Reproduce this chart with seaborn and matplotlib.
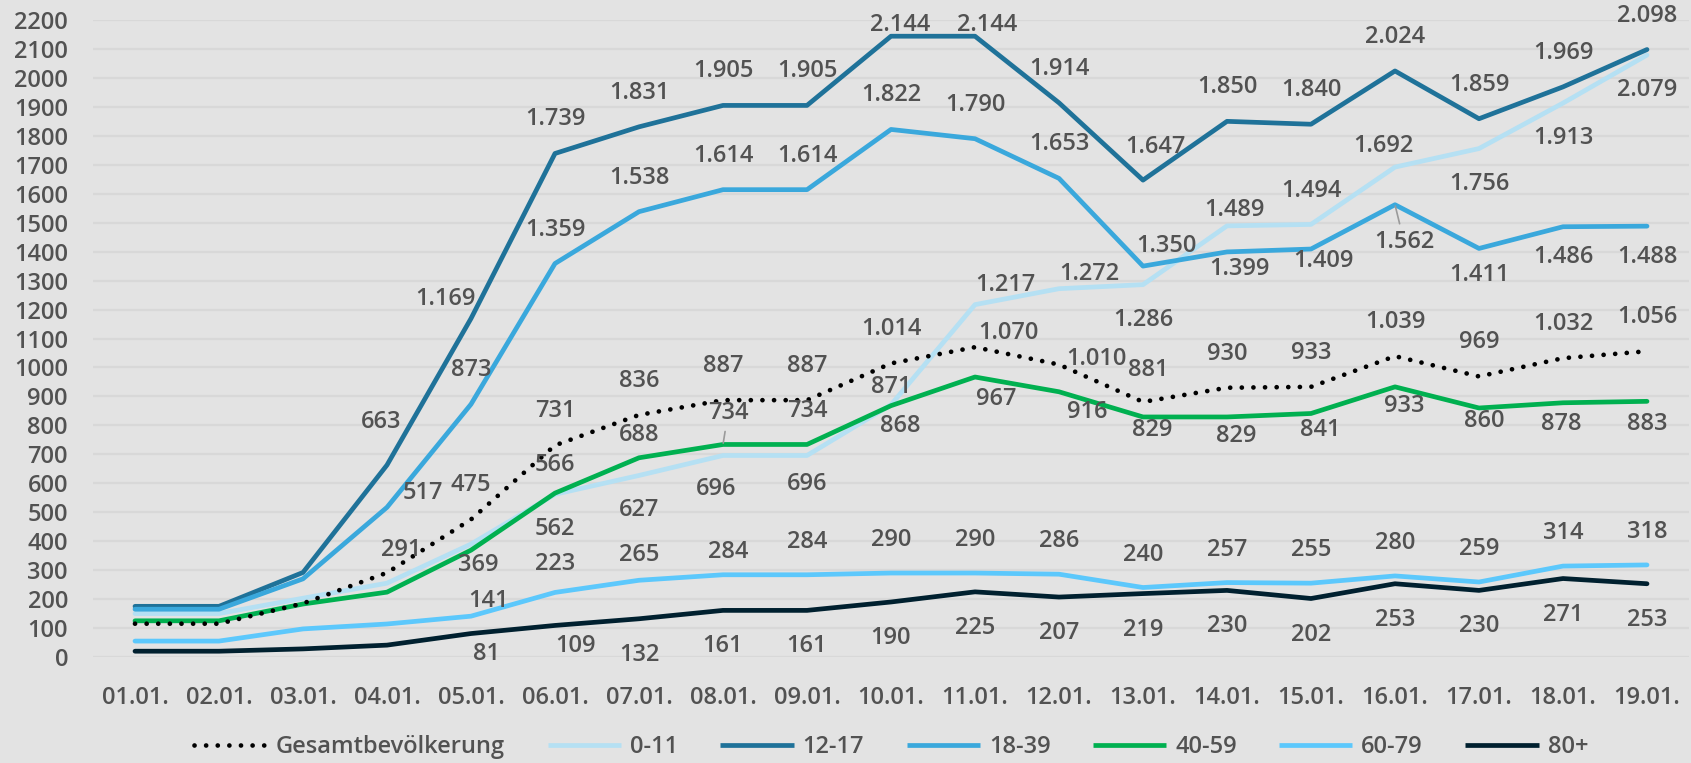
import numpy as np
import pandas as pd
import matplotlib
matplotlib.use("Agg")
import matplotlib.pyplot as plt
import seaborn as sns
from matplotlib.lines import Line2D

# ---------------- data ----------------
dates = ["01.01.", "02.01.", "03.01.", "04.01.", "05.01.", "06.01.", "07.01.",
         "08.01.", "09.01.", "10.01.", "11.01.", "12.01.", "13.01.", "14.01.",
         "15.01.", "16.01.", "17.01.", "18.01.", "19.01."]
gesamt = [115, 115, 185, 291, 475, 731, 836, 887, 887, 1014, 1070, 1010, 881,
          930, 933, 1039, 969, 1032, 1056]
age_0_11 = [150, 150, 203, 255, 390, 562, 627, 696, 696, 871, 1217, 1272, 1286,
            1489, 1494, 1692, 1756, 1913, 2079]
age_12_17 = [175, 175, 292, 663, 1169, 1739, 1831, 1905, 1905, 2144, 2144, 1914,
             1647, 1850, 1840, 2024, 1859, 1969, 2098]
age_18_39 = [165, 165, 270, 517, 873, 1359, 1538, 1614, 1614, 1822, 1790, 1653,
             1350, 1399, 1409, 1562, 1411, 1486, 1488]
age_40_59 = [125, 125, 183, 224, 369, 566, 688, 734, 734, 868, 967, 916, 829,
             829, 841, 933, 860, 878, 883]
age_60_79 = [55, 55, 97, 114, 141, 223, 265, 284, 284, 290, 290, 286, 240, 257,
             255, 280, 259, 314, 318]
age_80 = [20, 20, 28, 41, 81, 109, 132, 161, 161, 190, 225, 207, 219, 230, 202,
          253, 230, 271, 253]

series_names = ["Gesamtbevölkerung", "0-11", "12-17", "18-39", "40-59", "60-79", "80+"]
series_values = [gesamt, age_0_11, age_12_17, age_18_39, age_40_59, age_60_79, age_80]

# ---------------- styles ----------------
colors = {
    "Gesamtbevölkerung": "#000000",
    "0-11": "#b5e0f3",
    "12-17": "#1f7299",
    "18-39": "#3aa8dc",
    "40-59": "#00b050",
    "60-79": "#5cc8fc",
    "80+": "#00202f",
}
label_from = {"Gesamtbevölkerung": 3, "0-11": 5, "12-17": 3, "18-39": 3,
              "40-59": 4, "60-79": 4, "80+": 4}
default_off = {"Gesamtbevölkerung": (0, -34), "0-11": (0, 35), "12-17": (0, -34),
               "18-39": (0, -34), "40-59": (0, 19), "60-79": (0, -33), "80+": (0, 36)}
override_off = {
    "Gesamtbevölkerung": {3: (14, -23), 10: (33, -14), 11: (37, -6), 12: (5, -32)},
    "0-11": {7: (-7, 34), 8: (0, 29), 9: (0, -18), 10: (30, -20), 11: (30, -15),
             13: (7, -16), 14: (0, -33), 15: (-12, -21)},
    "12-17": {3: (-6, -43), 4: (-26, -20), 9: (9, -11), 10: (12, -11), 12: (12, -33)},
    "18-39": {3: (36, -14), 12: (23, -20), 13: (12, 17), 14: (12, 12), 15: (9, 37),
              16: (0, 27), 17: (0, 30), 18: (0, 31)},
    "40-59": {4: (7, 15), 5: (0, -28), 6: (0, -23), 7: (5, -31), 8: (0, -33),
              9: (9, 20), 10: (21, 22), 11: (28, 20), 12: (9, 13), 13: (9, 19),
              14: (9, 17), 15: (9, 19), 16: (5, 13), 17: (-2, 21), 18: (0, 23)},
    "60-79": {4: (18, -15), 5: (0, -28), 6: (0, -25), 7: (5, -23)},
    "80+": {4: (15, 20), 5: (21, 21)},
}
leaders = {("40-59", 7), ("18-39", 15)}

BG = "#e3e3e3"
GRID = "#d8d8d8"
TXT = "#525252"
FS = 17
FW = "semibold"
DOTS = (0, (0.01, 2.45))

sns.set_theme(style="white")
plt.rcParams["font.family"] = ["Open Sans", "DejaVu Sans"]

long = pd.concat(
    [pd.DataFrame({"idx": np.arange(len(dates)), "value": v, "series": n})
     for n, v in zip(series_names, series_values)],
    ignore_index=True)

fig = plt.figure(figsize=(16.91, 7.63), dpi=100, facecolor=BG)
ax = fig.add_axes([93 / 1691, 1 - 657 / 763, (1689 - 93) / 1691, (657 - 20) / 763])
ax.set_facecolor(BG)

draw_order = ["0-11", "12-17", "18-39", "40-59", "60-79", "80+", "Gesamtbevölkerung"]
for name in draw_order:
    sub = long[long["series"] == name]
    sns.lineplot(data=sub, x="idx", y="value", ax=ax, color=colors[name],
                 lw=3.4, sort=False, legend=False,
                 zorder=5 if name == "Gesamtbevölkerung" else 3)
    ln = ax.lines[-1]
    if name == "Gesamtbevölkerung":
        ln.set_linestyle(DOTS)
        ln.set_dash_capstyle("round")
    else:
        ln.set_solid_capstyle("round")
        ln.set_solid_joinstyle("round")

for name, vals in zip(series_names, series_values):
    for i, v in enumerate(vals):
        if i < label_from[name]:
            continue
        dx, dy = override_off[name].get(i, default_off[name])
        txt = f"{v:,}".replace(",", ".")
        kw = {}
        if (name, i) in leaders:
            kw["arrowprops"] = dict(arrowstyle="-", color="#9a9a9a", lw=1.2,
                                    shrinkA=2, shrinkB=1)
        ax.annotate(txt, xy=(i, v), xytext=(dx, -dy), textcoords="offset pixels",
                    ha="center", va="center", fontsize=FS, fontweight=FW, color=TXT,
                    zorder=6, annotation_clip=False, **kw)

ax.set_xlim(-0.5, len(dates) - 0.5)
ax.set_ylim(0, 2200)
ax.set_yticks(np.arange(0, 2201, 100))
ax.set_yticklabels([str(t) for t in range(0, 2201, 100)], fontweight=FW)
ax.yaxis.grid(True, color=GRID, lw=1.6)
ax.set_axisbelow(True)

ax.set_xticks(np.arange(-0.5, len(dates), 1.0))
ax.set_xticklabels([])
ax.set_xticks(np.arange(len(dates)), minor=True)
ax.set_xticklabels(dates, minor=True, fontweight=FW)
ax.tick_params(axis="x", which="major", length=7, width=1.5, color=GRID, direction="out")
ax.tick_params(axis="x", which="minor", length=0, pad=21, labelsize=FS, labelcolor=TXT)
ax.tick_params(axis="y", length=0, pad=18, labelsize=FS, labelcolor=TXT)
ax.set_xlabel("")
ax.set_ylabel("")
for s in ax.spines.values():
    s.set_visible(False)

handles = []
for name in series_names:
    if name == "Gesamtbevölkerung":
        h = Line2D([0], [0], color=colors[name], lw=3.4, linestyle=DOTS,
                   dash_capstyle="round")
    else:
        h = Line2D([0], [0], color=colors[name], lw=3.4, solid_capstyle="butt")
    handles.append(h)
leg = fig.legend(handles, series_names, loc="center", bbox_to_anchor=(891 / 1691, 16 / 763),
                 ncol=7, frameon=False, prop={"size": FS, "weight": FW}, labelcolor=TXT,
                 handlelength=3.1, handletextpad=0.38, columnspacing=1.8)

fig.savefig("out.png", dpi=100, facecolor=BG)
